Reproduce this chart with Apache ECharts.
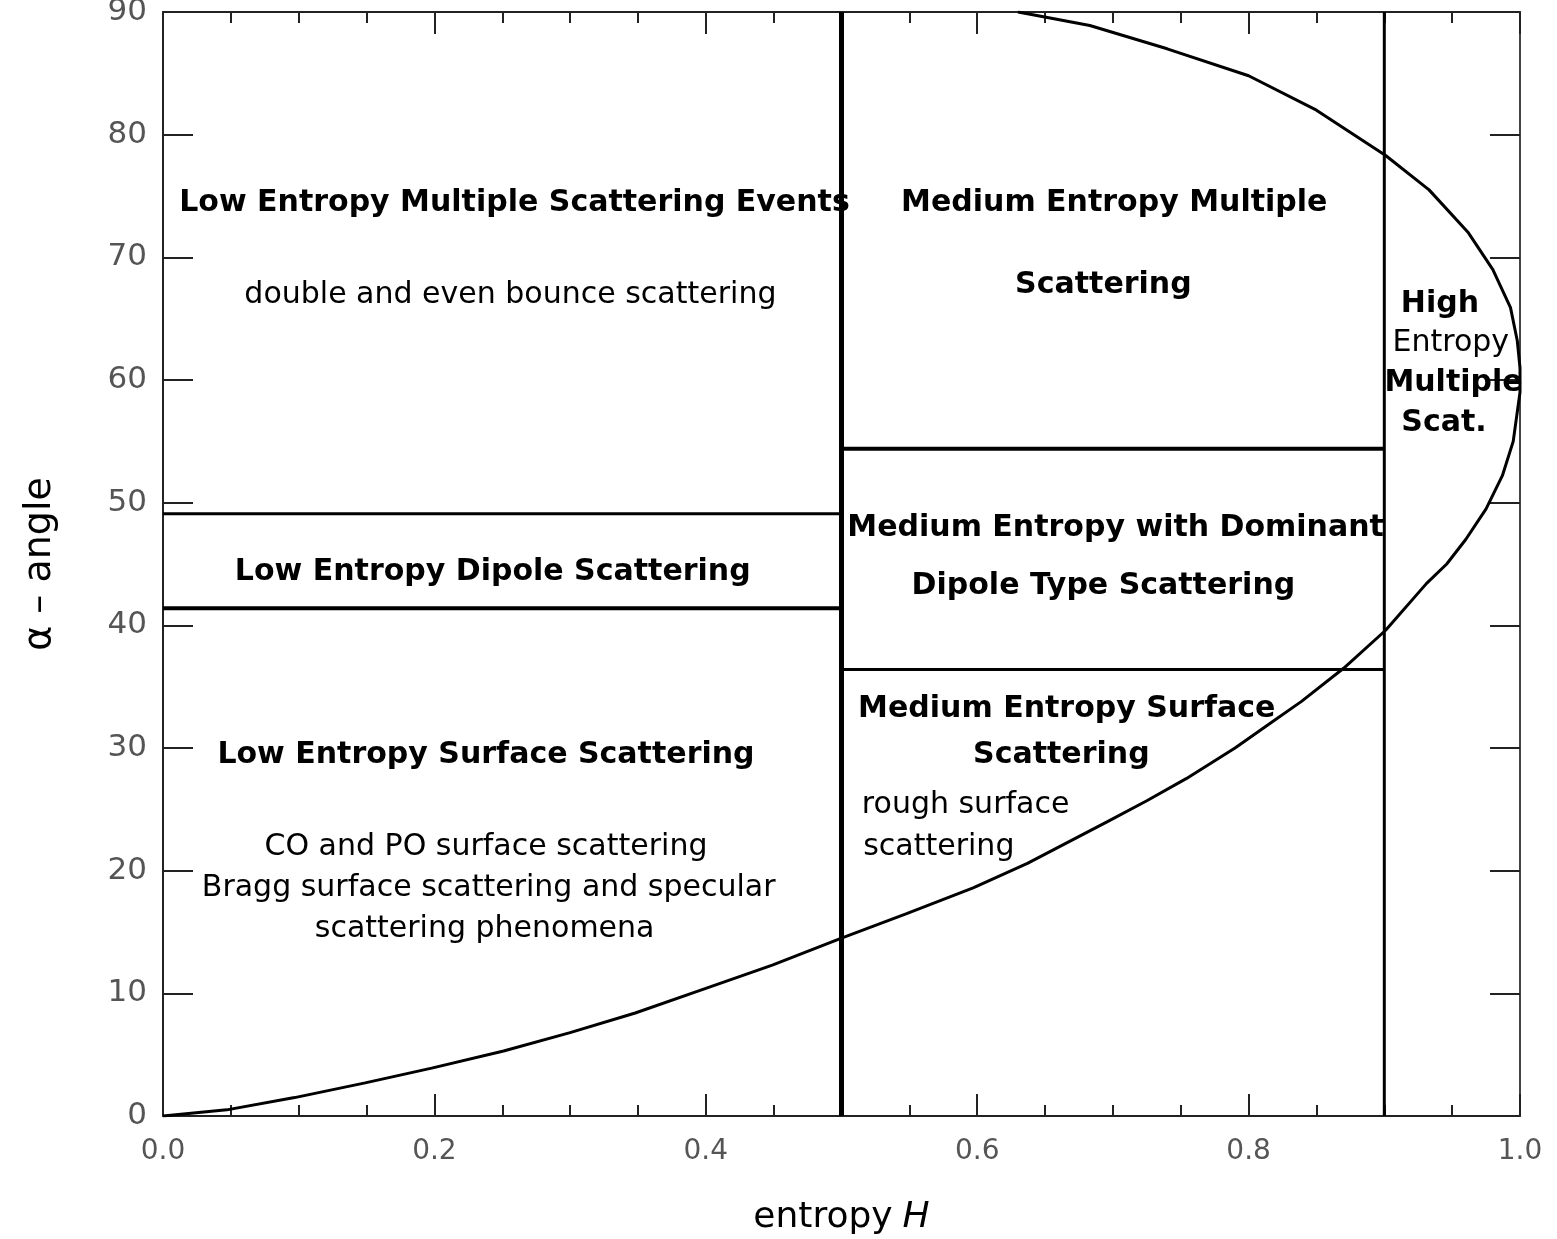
<!DOCTYPE html>
<html>
<head>
<meta charset="utf-8">
<script src="https://cdn.jsdelivr.net/npm/echarts@6/dist/echarts.min.js"></script>
<style>
  html, body { margin: 0; background: #fff; }
  #chart-container { width: 1557px; height: 1239px; }
</style>
</head>
<body>
<div id="chart-container"></div>
<script>
var dom = document.getElementById("chart-container");
var myChart = echarts.init(dom, null, { renderer: "canvas" });

// boundary curve, lower branch
var lowerH = [0, 0.047, 0.097, 0.149, 0.198, 0.251, 0.30, 0.348, 0.40, 0.449, 0.50,
  0.548, 0.597, 0.637, 0.696, 0.725, 0.754, 0.79, 0.817, 0.839, 0.870, 0.901, 0.931, 0.946,
  0.960, 0.975, 0.987, 0.995, 1.0];
var lowerAlpha = [0, 0.5, 1.5, 2.7, 3.9, 5.3, 6.8, 8.4, 10.4, 12.3, 14.5,
  16.5, 18.6, 20.6, 24.0, 25.7, 27.5, 30.0, 32.1, 33.8, 36.5, 39.6, 43.4, 45.0,
  47.0, 49.5, 52.2, 55.0, 59.0];
// upper branch, continuing from the right-hand tip
var upperH = [1.0, 0.998, 0.993, 0.980, 0.962, 0.933, 0.901, 0.850, 0.800, 0.740, 0.683, 0.640, 0.630];
var upperAlpha = [61.0, 63.2, 65.9, 69.0, 72.0, 75.5, 78.3, 82.0, 84.8, 87.0, 88.9, 89.8, 90.0];

// zone boundaries
var entropySplits = [0.5, 0.9];
var lowDipoleAlpha = [41.4, 49.1];      // H 0 .. 0.5
var mediumDipoleAlpha = [36.4, 54.4];   // H 0.5 .. 0.9

var curve = [];
lowerH.forEach(function (h, i) { curve.push([h, lowerAlpha[i]]); });
upperH.forEach(function (h, i) { curve.push([h, upperAlpha[i]]); });

function seg(points, width) {
  return {
    type: "line",
    data: points,
    showSymbol: false,
    silent: true,
    lineStyle: { color: "#000", width: width },
    z: 3,
  };
}

var BOLD = "bold 30px 'DejaVu Sans'";
var REG = "30px 'DejaVu Sans'";

// region labels: text, anchor [H, alpha], font, alignment
var notes = [
  ["Low Entropy Multiple Scattering Events", [0.259, 74.4], BOLD, "center"],
  ["double and even bounce scattering", [0.256, 66.9], REG, "center"],
  ["Medium Entropy Multiple", [0.701, 74.4], BOLD, "center"],
  ["Scattering", [0.693, 67.7], BOLD, "center"],
  ["High", [0.941, 66.2], BOLD, "center"],
  ["Entropy", [0.949, 63.0], REG, "center"],
  ["Multiple", [0.951, 59.7], BOLD, "center"],
  ["Scat.", [0.944, 56.5], BOLD, "center"],
  ["Low Entropy Dipole Scattering", [0.243, 44.3], BOLD, "center"],
  ["Medium Entropy with Dominant", [0.702, 47.9], BOLD, "center"],
  ["Dipole Type Scattering", [0.693, 43.2], BOLD, "center"],
  ["Medium Entropy Surface", [0.666, 33.2], BOLD, "center"],
  ["Scattering", [0.662, 29.4], BOLD, "center"],
  ["rough surface", [0.515, 25.3], REG, "left"],
  ["scattering", [0.516, 21.9], REG, "left"],
  ["Low Entropy Surface Scattering", [0.238, 29.4], BOLD, "center"],
  ["CO and PO surface scattering", [0.238, 21.9], REG, "center"],
  ["Bragg surface scattering and specular", [0.240, 18.6], REG, "center"],
  ["scattering phenomena", [0.237, 15.2], REG, "center"],
];

var tickLine = { color: "#222", width: 2 };

var option = {
  animation: false,
  backgroundColor: "#fff",
  grid: { left: 163, right: 37, top: 12, bottom: 123, outerBoundsMode: "none" },
  xAxis: [
    {
      type: "value",
      min: 0,
      max: 1,
      interval: 0.2,
      name: "{a|entropy}   {b|H}",
      nameLocation: "middle",
      nameGap: 84,
      nameTextStyle: {
        rich: {
          a: { fontSize: 36, fontFamily: "DejaVu Sans", color: "#000" },
          b: { fontSize: 36, fontFamily: "DejaVu Sans", fontStyle: "italic", color: "#000" },
        },
      },
      axisLine: { onZero: false, lineStyle: { color: "#222", width: 2 } },
      axisTick: { inside: true, length: 22, lineStyle: tickLine },
      minorTick: { show: true, splitNumber: 4, length: 11, lineStyle: tickLine },
      splitLine: { show: false },
      axisLabel: {
        margin: 22,
        fontSize: 28,
        fontFamily: "DejaVu Sans",
        color: "#555",
        formatter: function (v) { return v.toFixed(1); },
      },
    },
    {
      type: "value",
      position: "top",
      min: 0,
      max: 1,
      interval: 0.2,
      axisLine: { show: true, onZero: false, lineStyle: { color: "#222", width: 2 } },
      axisTick: { inside: true, length: 22, lineStyle: tickLine },
      minorTick: { show: true, splitNumber: 4, length: 11, lineStyle: tickLine },
      splitLine: { show: false },
      axisLabel: { show: false },
    },
  ],
  yAxis: [
    {
      type: "value",
      min: 0,
      max: 90,
      interval: 10,
      name: "α – angle",
      nameLocation: "middle",
      nameGap: 104,
      nameTextStyle: { fontSize: 38, fontFamily: "DejaVu Sans", color: "#000" },
      axisLine: { show: true, onZero: false, lineStyle: { color: "#222", width: 2 } },
      axisTick: { inside: true, length: 30, lineStyle: tickLine },
      splitLine: { show: false },
      axisLabel: {
        margin: 16,
        fontSize: 31,
        fontFamily: "DejaVu Sans",
        color: "#555",
      },
    },
    {
      type: "value",
      position: "right",
      min: 0,
      max: 90,
      interval: 10,
      axisLine: { show: true, onZero: false, lineStyle: { color: "#444", width: 2 } },
      axisTick: { inside: true, length: 30, lineStyle: tickLine },
      splitLine: { show: false },
      axisLabel: { show: false },
    },
  ],
  series: [
    seg([[entropySplits[0], 0], [entropySplits[0], 90]], 5),
    seg([[entropySplits[1], 0], [entropySplits[1], 90]], 3),
    seg([[0, lowDipoleAlpha[0]], [entropySplits[0], lowDipoleAlpha[0]]], 4),
    seg([[0, lowDipoleAlpha[1]], [entropySplits[0], lowDipoleAlpha[1]]], 3),
    seg([[entropySplits[0], mediumDipoleAlpha[0]], [entropySplits[1], mediumDipoleAlpha[0]]], 3),
    seg([[entropySplits[0], mediumDipoleAlpha[1]], [entropySplits[1], mediumDipoleAlpha[1]]], 4),
    {
      type: "line",
      data: curve,
      showSymbol: false,
      silent: true,
      lineStyle: { color: "#000", width: 3 },
      z: 4,
    },
  ],
};

myChart.setOption(option);

// place the region labels in data coordinates
var graphics = notes.map(function (n) {
  var p = myChart.convertToPixel({ xAxisIndex: 0, yAxisIndex: 0 }, n[1]);
  return {
    type: "text",
    x: p[0],
    y: p[1],
    z: 10,
    style: {
      text: n[0],
      font: n[2],
      fill: "#000",
      align: n[3],
      verticalAlign: "middle",
    },
  };
});
myChart.setOption({ graphic: graphics });

window.addEventListener("resize", myChart.resize);
</script>
</body>
</html>
